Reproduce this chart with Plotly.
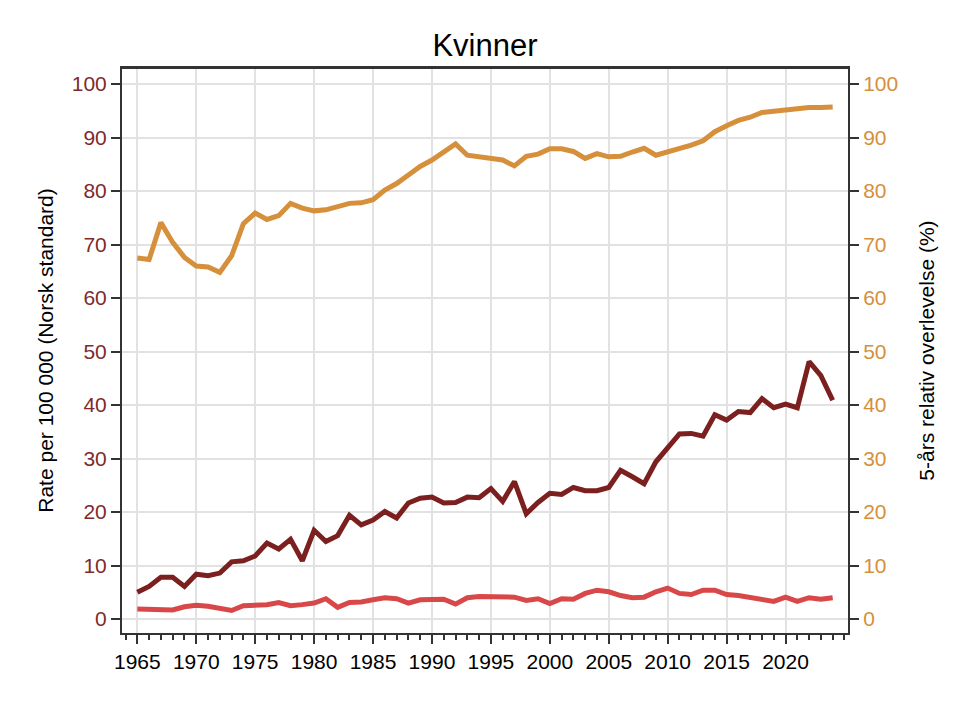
import plotly.graph_objects as go

# Years 1965-2024
years = list(range(1965, 2025))

# Incidence rate per 100 000 (Norsk standard) - dark red line, left axis
incidence = [
    5.0, 6.1, 7.8, 7.8, 6.1, 8.4, 8.1, 8.6, 10.7, 10.9,
    11.8, 14.2, 13.1, 14.9, 10.9, 16.6, 14.5, 15.6, 19.4, 17.6,
    18.5, 20.1, 18.9, 21.7, 22.6, 22.8, 21.7, 21.8, 22.8, 22.7,
    24.4, 22.0, 25.7, 19.7, 21.8, 23.5, 23.3, 24.6, 24.0, 24.0,
    24.6, 27.8, 26.6, 25.3, 29.4, 31.9, 34.6, 34.7, 34.2, 38.2,
    37.2, 38.8, 38.6, 41.2, 39.5, 40.2, 39.5, 48.1, 45.5, 40.9,
]

# Mortality rate per 100 000 - light red line, left axis
mortality = [
    1.9, 1.9, 1.8, 1.7, 2.3, 2.6, 2.4, 2.0, 1.6, 2.5,
    2.6, 2.7, 3.1, 2.5, 2.7, 3.0, 3.8, 2.2, 3.1, 3.2,
    3.6, 4.0, 3.8, 3.0, 3.6, 3.6, 3.7, 2.8, 4.0, 4.2,
    4.1, 4.0, 4.1, 3.5, 3.8, 2.9, 3.8, 3.7, 4.8, 5.4,
    5.1, 4.4, 4.0, 4.1, 5.1, 5.8, 4.8, 4.6, 5.4, 5.4,
    4.6, 4.4, 4.1, 3.8, 3.3, 4.1, 3.3, 4.0, 3.7, 4.0,
]

# 5-year relative survival (%) - orange line, right axis
survival = [
    67.5, 67.2, 74.1, 70.4, 67.6, 66.0, 65.8, 64.8, 67.9, 73.9,
    75.9, 74.7, 75.4, 77.7, 76.8, 76.3, 76.5, 77.2, 77.7, 77.8,
    78.4, 80.2, 81.4, 83.0, 84.6, 85.8, 87.3, 88.8, 86.7, 86.4,
    86.1, 85.8, 84.7, 86.5, 86.9, 87.9, 87.9, 87.4, 86.1, 87.0,
    86.4, 86.5, 87.3, 88.0, 86.7, 87.3, 87.9, 88.6, 89.4, 91.1,
    92.2, 93.2, 93.8, 94.7, 94.9, 95.2, 95.5, 95.6, 95.6, 95.7,
]

y_ticks = [0, 10, 20, 30, 40, 50, 60, 70, 80, 90, 100]
x_ticks = [1965, 1970, 1975, 1980, 1985, 1990, 1995, 2000, 2005, 2010, 2015, 2020]

FONT = "Liberation Sans, Arial, sans-serif"
DARK_RED = "#7B1F1F"
LIGHT_RED = "#D94848"
ORANGE = "#D68F3A"

fig = go.Figure()

fig.add_trace(go.Scatter(x=years, y=incidence, mode="lines",
                         line=dict(color=DARK_RED, width=5), name="Insidens"))
fig.add_trace(go.Scatter(x=years, y=mortality, mode="lines",
                         line=dict(color=LIGHT_RED, width=5), name="Dødelighet"))
fig.add_trace(go.Scatter(x=years, y=survival, mode="lines", yaxis="y2",
                         line=dict(color=ORANGE, width=5), name="Overlevelse"))

axis_common = dict(
    showline=True, linecolor="#333333", linewidth=2,
    ticks="outside", ticklen=9, tickwidth=2, tickcolor="#333333",
    zeroline=False,
)

fig.update_layout(
    width=970, height=705,
    paper_bgcolor="white", plot_bgcolor="white",
    showlegend=False,
    font=dict(family=FONT, size=21, color="black"),
    margin=dict(l=114, r=130, t=60, b=80),
    title=dict(text="Kvinner", xref="paper", x=0.5, xanchor="center",
               y=0.948, yanchor="middle",
               font=dict(family=FONT, size=31, color="black")),
    xaxis=dict(
        **axis_common,
        range=[1963.7, 2025.3],
        tickvals=x_ticks,
        tickfont=dict(size=21, color="black"),
        showgrid=True, gridcolor="#e2e2e2", gridwidth=2,
        mirror=True,
        minor=dict(dtick=1, tick0=1965, ticks="outside", ticklen=5,
                   tickwidth=2, tickcolor="#333333", showgrid=False),
    ),
    yaxis=dict(
        **axis_common,
        range=[-2.6, 103],
        tickvals=y_ticks,
        tickfont=dict(size=21, color="#7F2A2A"),
        showgrid=True, gridcolor="#e2e2e2", gridwidth=2,
        title=dict(text="Rate per 100 000 (Norsk standard)", standoff=12,
                   font=dict(size=21, color="black")),
    ),
    yaxis2=dict(
        **axis_common,
        overlaying="y", side="right",
        range=[-2.6, 103],
        tickvals=y_ticks,
        tickfont=dict(size=21, color=ORANGE),
        showgrid=False,
        title=dict(text="5-års relativ overlevelse (%)", standoff=22,
                   font=dict(size=21, color="black")),
    ),
)

# top border of the plot box
fig.add_shape(type="line", xref="paper", yref="paper", x0=0, x1=1, y0=1, y1=1,
              line=dict(color="#333333", width=2))

fig.write_html("out.html")
